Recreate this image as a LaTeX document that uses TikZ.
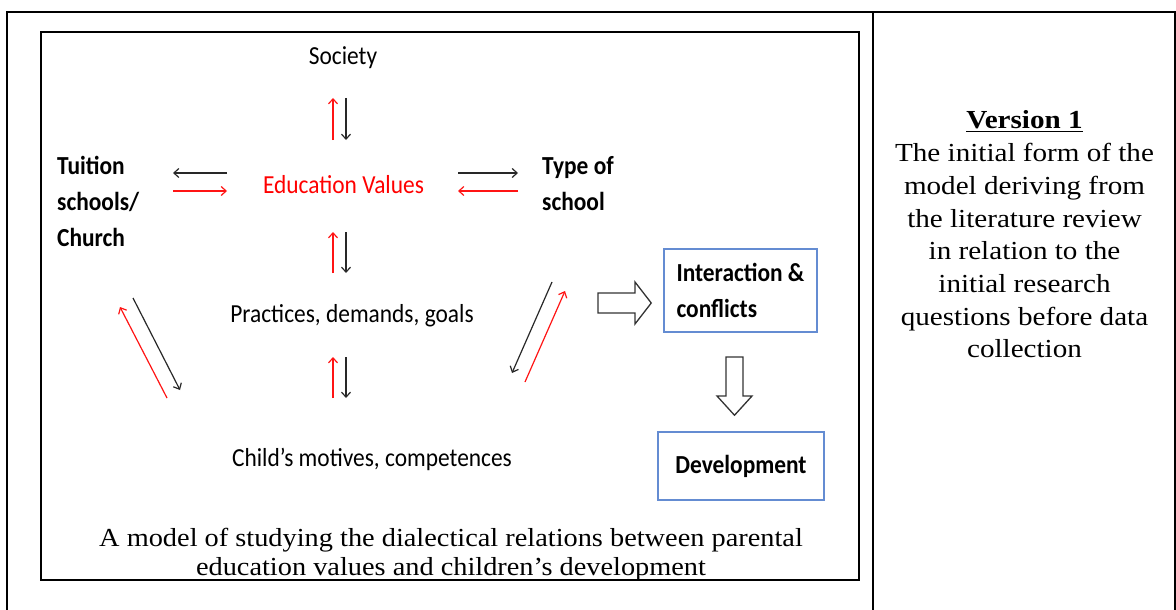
\documentclass[tikz,border=0pt]{standalone}
\usepackage{fontspec}
\usetikzlibrary{arrows.meta,calc}
\newfontfamily\labelfont[FakeStretch=0.9]{Carlito}
\newfontfamily\capfont[FakeStretch=1.09]{Liberation Serif}
\newfontfamily\notefont[FakeStretch=1.12]{Liberation Serif}
\definecolor{boxblue}{RGB}{100,140,210}
\definecolor{darkarrow}{RGB}{40,40,40}
\definecolor{redarrow}{RGB}{255,20,20}

\begin{document}
\begin{tikzpicture}[x=1pt,y=-1pt,
  lbl/.style={font=\labelfont\fontsize{26pt}{36pt}\selectfont, inner sep=0pt},
  blk/.style={inner sep=0pt, font=\labelfont\bfseries\fontsize{26pt}{36pt}\selectfont},
  capt/.style={inner sep=0pt, font=\capfont\fontsize{26pt}{29pt}\selectfont},
  note/.style={inner sep=0pt, font=\notefont\fontsize{26pt}{32.7pt}\selectfont},
  barb/.style={-{Straight Barb[length=5pt,width=9pt]}, line width=1.2pt},
  redarr/.style={barb, draw=redarrow},
  blkarr/.style={barb, draw=darkarrow},
  bluebox/.style={blk, draw=boxblue, line width=1.5pt},
  fatarrow/.style={draw=black!80, line width=1.3pt, fill=white, line join=miter},
  rule/.style={line width=1.5pt}
]
\useasboundingbox (0,0) rectangle (1176,610);

% table rules
\draw[rule] (7,610) -- (7,12) -- (1176,12);
\draw[rule] (873,12) -- (873,610);
\draw[rule] (1175,12) -- (1175,610);

% caption of the model, cut off by the frame
\begin{scope}
  \clip (41,32) rectangle (859,579);
  \node[capt, anchor=base] (cap1) at (451,546) {A model of studying the dialectical relations between parental};
  \node[capt, anchor=base] (cap2) at (451,575) {education values and children’s development};
\end{scope}

% frame of the model
\draw[line width=2.5pt] (41,32) rectangle (859,580);

% labels
\node[lbl] (society) at (343,58) {Society};
\node[lbl, text=red] (values) at (343.5,185) {Education Values};
\node[blk, align=left, anchor=west] (tuition) at (57,201) {Tuition\\schools/\\Church};
\node[blk, align=left, anchor=west] (type) at (542,183.5) {Type of\\school};
\node[lbl] (practices) at (352,316) {Practices, demands, goals};
\node[lbl] (child) at (372,459) {Child’s motives, competences};
\node[bluebox, align=left, inner xsep=10pt,
      minimum width=153pt, minimum height=83pt] (inter) at (740.5,290.5) {Interaction \&\\conflicts};
\node[bluebox, minimum width=166pt, minimum height=68pt] (dev) at (741,466) {Development};

% vertical pairs of arrows
\draw[redarr] (333,140) -- (333,98);
\draw[blkarr] (346,98) -- (346,140);
\draw[redarr] (333,273) -- (333,232);
\draw[blkarr] (346,232) -- (346,273);
\draw[redarr] (333,398) -- (333,357);
\draw[blkarr] (346,357) -- (346,398);

% horizontal pairs of arrows
\draw[blkarr] (227,173) -- (173,173);
\draw[redarr] (173,191) -- (227,191);
\draw[blkarr] (458,173) -- (518,173);
\draw[redarr] (518,191) -- (458,191);

% diagonal pairs of arrows
\draw[redarr] (167,398) -- (120,307);
\draw[blkarr] (133,298) -- (180,390);
\draw[blkarr] (552,282) -- (512,373);
\draw[redarr] (525,382) -- (565,291);

% block arrows
\coordinate (rs) at (598,303);
\draw[fatarrow] ($(rs)+(0,-10)$) -- ++(37,0) -- ++(0,-11) -- ($(inter.west)+(-12,12.5)$)
  -- ($(rs)+(37,21)$) -- ++(0,-11) -- ++(-37,0) -- cycle;
\coordinate (ds) at (734.5,357);
\draw[fatarrow] ($(ds)+(-8.5,0)$) -- ++(17,0) -- ++(0,39) -- ++(9,0)
  -- ($(dev.north)+(-6.5,-16)$) -- ($(ds)+(-17.5,39)$) -- ++(9,0) -- cycle;

% note column
\node[note, align=center] (note) at (1024.5,234.5) {\underline{\textbf{Version 1}}\\The initial form of the\\model deriving from\\the literature review\\in relation to the\\initial research\\questions before data\\collection};
\end{tikzpicture}
\end{document}
